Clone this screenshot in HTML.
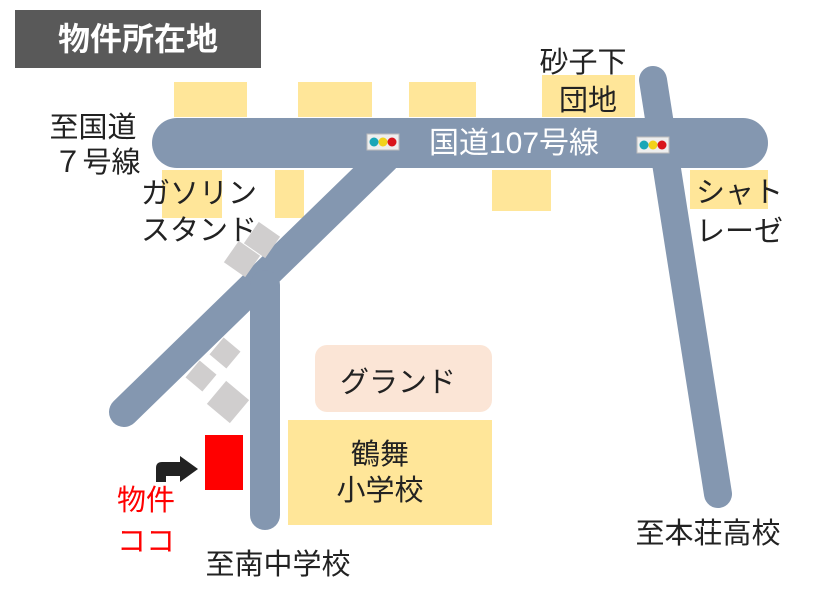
<!DOCTYPE html>
<html><head><meta charset="utf-8"><style>
body{margin:0;background:#fff}
text{font-family:"Liberation Sans","Noto Sans CJK JP",sans-serif;font-size:29px;fill:#222}
</style></head><body>
<svg width="816" height="586" viewBox="0 0 816 586" xmlns="http://www.w3.org/2000/svg">
<rect x="15" y="10" width="246" height="58" fill="#595959"/>
<text x="138" y="50" text-anchor="middle" style="fill:#fff;font-weight:bold;font-size:32px">物件所在地</text>
<g fill="#FFE699">
<rect x="174" y="82" width="73" height="35"/><rect x="298" y="82" width="74" height="35"/>
<rect x="409" y="82" width="67" height="35"/><rect x="542" y="75" width="93" height="42"/>
<rect x="162" y="170" width="60" height="48"/><rect x="275" y="170" width="29" height="48"/>
<rect x="492" y="170" width="59" height="41"/><rect x="690" y="170" width="78" height="39"/>
<rect x="288" y="420" width="204" height="105"/>
</g>
<rect x="315" y="345" width="177" height="67" rx="12" fill="#FBE5D6"/>
<g stroke="#8497B0" stroke-linecap="round" fill="none">
<line x1="385" y1="158" x2="124" y2="412" stroke-width="30"/>
<line x1="265" y1="285" x2="265" y2="515" stroke-width="30"/>
<line x1="653" y1="80" x2="718" y2="494" stroke-width="28"/>
</g>
<rect x="152" y="118" width="616" height="50" rx="25" fill="#8497B0"/>
<g fill="#D0CECE">
<rect x="-13" y="-13" width="26" height="26" transform="translate(262,240) rotate(35)"/>
<rect x="-13" y="-13" width="26" height="26" transform="translate(242,259) rotate(35)"/>
<rect x="-11" y="-11" width="22" height="22" transform="translate(225,353) rotate(40)"/>
<rect x="-11" y="-11" width="22" height="22" transform="translate(201,376) rotate(40)"/>
<rect x="-15" y="-15" width="30" height="30" transform="translate(228,402) rotate(40)"/>
</g>
<g>
<rect x="367" y="134" width="32" height="16" fill="#eee" stroke="#bbb"/>
<circle cx="374" cy="142" r="4.5" fill="#1aa6b7"/><circle cx="383" cy="142" r="4.5" fill="#f2d21b"/><circle cx="392" cy="142" r="4.5" fill="#d9141b"/>
<rect x="637" y="137" width="32" height="16" fill="#eee" stroke="#bbb"/>
<circle cx="644" cy="145" r="4.5" fill="#1aa6b7"/><circle cx="653" cy="145" r="4.5" fill="#f2d21b"/><circle cx="662" cy="145" r="4.5" fill="#d9141b"/>
</g>
<text x="514" y="153" text-anchor="middle" style="fill:#fff;font-size:30px">国道107号線</text>
<rect x="205" y="435" width="38" height="55" fill="#FF0000"/>
<path d="M156,482 L156,468 Q156,462 162,462 L180,462 L180,456 L198,469 L180,482 L180,476 L166,476 L166,482 Z" fill="#222"/>
<text x="93" y="137" text-anchor="middle">至国道</text>
<text x="97" y="172" text-anchor="middle">７号線</text>
<text x="583" y="72" text-anchor="middle">砂子下</text>
<text x="588" y="110" text-anchor="middle">団地</text>
<text x="141" y="203">ガソリン</text>
<text x="141" y="240">スタンド</text>
<text x="696" y="202">シャト</text>
<text x="696" y="241">レーゼ</text>
<text x="398" y="392" text-anchor="middle">グランド</text>
<text x="380" y="464" text-anchor="middle">鶴舞</text>
<text x="380" y="500" text-anchor="middle">小学校</text>
<text x="146" y="510" text-anchor="middle" style="fill:#FF0000">物件</text>
<text x="146" y="551" text-anchor="middle" style="fill:#FF0000">ココ</text>
<text x="278" y="574" text-anchor="middle">至南中学校</text>
<text x="708" y="543" text-anchor="middle">至本荘高校</text>
</svg>
</body></html>
